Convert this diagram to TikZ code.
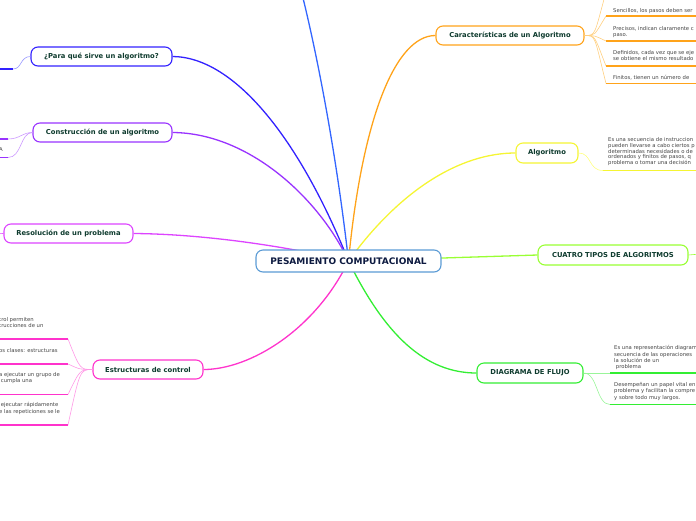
\documentclass[tikz,border=0pt]{standalone}
\usepackage{fontspec}
\setmainfont{DejaVu Sans}
\usetikzlibrary{backgrounds}
\definecolor{orangeA}{HTML}{FFA31A}
\definecolor{orangeL}{HTML}{FFCF80}
\definecolor{yellowA}{HTML}{F5F533}
\definecolor{yellowL}{HTML}{FFFF80}
\definecolor{lgreenA}{HTML}{99FF33}
\definecolor{greenA}{HTML}{33EE33}
\definecolor{greenL}{HTML}{99F599}
\definecolor{pinkA}{HTML}{FF33CC}
\definecolor{pinkL}{HTML}{FF99E6}
\definecolor{magA}{HTML}{DD44FF}
\definecolor{purpA}{HTML}{9933FF}
\definecolor{purpL}{HTML}{CC99FF}
\definecolor{violA}{HTML}{3322FF}
\definecolor{violL}{HTML}{9999FF}
\definecolor{blueA}{HTML}{3366FF}
\definecolor{centralB}{HTML}{5B9BD5}
\definecolor{centralT}{HTML}{0D1A40}
\definecolor{nodeT}{HTML}{0E3B2E}
\definecolor{itemT}{HTML}{444444}
\begin{document}
\begin{tikzpicture}[x=1pt,y=-1pt,
  topic/.style={draw, rounded corners=7pt, line width=1.1pt, fill=white, inner sep=0pt,
    font=\fontsize{6.8}{7.5}\selectfont\bfseries, text=nodeT},
  item/.style={inner sep=0pt, anchor=north west, align=left,
    font=\fontsize{5.3}{6.1}\selectfont, text=itemT},
  conn/.style={line width=1.3pt},
  subc/.style={line width=0.6pt},
  under/.style={line width=1.8pt}]
\useasboundingbox (0,0) rectangle (696,520);
\clip (0,0) rectangle (696,520);

% central and topics
\node[topic, draw=centralB, minimum width=185pt, minimum height=22pt,
  font=\fontsize{9}{10}\selectfont\bfseries, text=centralT] (c) at (348.5,261) {PESAMIENTO COMPUTACIONAL};
\node[topic, draw=orangeA, minimum width=148pt, minimum height=19pt] (car) at (510,35.5) {Características de un Algoritmo};
\node[topic, draw=yellowA, minimum width=62pt, minimum height=20pt] (alg) at (547,153) {Algoritmo};
\node[topic, draw=lgreenA, minimum width=150pt, minimum height=20pt] (cua) at (613,255) {CUATRO TIPOS DE ALGORITMOS};
\node[topic, draw=greenA, minimum width=106pt, minimum height=20pt] (dia) at (530,373) {DIAGRAMA DE FLUJO};
\node[topic, draw=violA, minimum width=141pt, minimum height=19pt] (par) at (101.5,56.5) {¿Para qué sirve un algoritmo?};
\node[topic, draw=purpA, minimum width=139pt, minimum height=19pt] (con) at (102.5,132.5) {Construcción de un algoritmo};
\node[topic, draw=magA, minimum width=129pt, minimum height=19pt] (res) at (68.5,233.5) {Resolución de un problema};
\node[topic, draw=pinkA, minimum width=110pt, minimum height=19pt] (est) at (148,369.5) {Estructuras de control};

\coordinate (topb) at (302,-6);

\begin{pgfonlayer}{background}
% main connectors
\draw[conn, blueA] (c.center) .. controls (336,150) and (316,50) .. (topb);
\draw[conn, orangeA] (c.center) .. controls (362,120) and (395,35.5) .. (car.west);
\draw[conn, yellowA] (c.center) .. controls (400,190) and (460,153) .. (alg.west);
\draw[conn, lgreenA] (c.center) -- (cua.west);
\draw[conn, greenA] (c.center) .. controls (385,335) and (425,373) .. (dia.west);
\draw[conn, violA] (c.center) .. controls (300,140) and (235,57) .. (par.east);
\draw[conn, purpA] (c.center) .. controls (320,200) and (250,133) .. (con.east);
\draw[conn, magA] (c.center) .. controls (280,245) and (200,234) .. (res.east);
\draw[conn, pinkA] (c.center) .. controls (315,330) and (250,369.5) .. (est.east);
\end{pgfonlayer}

% Caracteristicas items
\coordinate (k0) at (606,-8);
\coordinate (k1) at (606,16);
\coordinate (k2) at (606,41);
\coordinate (k3) at (606,66);
\coordinate (k4) at (606,83.5);
\foreach \k in {k0,k1,k2,k3,k4}{
  \draw[subc, orangeL] (car.east) .. controls (596,35.5) and (594,35.5) .. (\k);
  \draw[under, orangeA] (\k) -- ++(95,0);
}
\node[item] (ka) at (613,8.5) {Sencillos, los pasos deben ser};
\node[item] (kb) at (613,26.5) {Precisos, indican claramente c\\paso.};
\node[item] (kc) at (613,50.5) {Definidos, cada vez que se eje\\se obtiene el mismo resultado};
\node[item] (kd) at (613,75.5) {Finitos, tienen un número de};

% Algoritmo item
\coordinate (a1) at (603,170.5);
\draw[subc, yellowL] (alg.east) .. controls (592,153) and (588,170.5) .. (a1);
\draw[under, yellowA] (a1) -- ++(100,0);
\node[item, font=\fontsize{5.3}{5.75}\selectfont] (at) at (608,137.5) {Es una secuencia de instruccion\\pueden llevarse a cabo ciertos p\\determinadas necesidades o de\\ordenados y finitos de pasos, q\\problema o tomar una decisión};

% Cuatro tipos
\coordinate (q1) at (700,254);
\draw[subc, lgreenA] (cua.east) -- (q1);

% Diagrama items
\coordinate (d1) at (610,373);
\coordinate (d2) at (610,404.5);
\draw[subc, greenL] (dia.east) -- (d1);
\draw[subc, greenL] (dia.east) .. controls (598,373) and (596,404.5) .. (d2);
\draw[under, greenA] (d1) -- ++(95,0);
\draw[under, greenA] (d2) -- ++(95,0);
\node[item] (dt1) at (614,345.5) {Es una representación diagram\\secuencia de las operaciones\\la solución de un\\\ problema};
\node[item] (dt2) at (614,382.5) {Desempeñan un papel vital en\\problema y facilitan la compre\\y sobre todo muy largos.};

% Para que
\coordinate (p1) at (13,69);
\draw[subc, violL] (par.west) .. controls (20,56.5) and (22,69) .. (p1);
\draw[under, violA] (p1) -- ++(-20,0);

% Construccion
\coordinate (c1) at (8,139);
\coordinate (c2) at (8,157.5);
\draw[subc, purpL] (con.west) .. controls (22,132.5) and (20,139) .. (c1);
\draw[subc, purpL] (con.west) .. controls (20,132.5) and (22,157.5) .. (c2);
\draw[under, purpA] (c1) -- ++(-15,0);
\draw[under, purpA] (c2) -- ++(-15,0);
\node[item, anchor=west] (ca) at (-1,150) {A};

% Resolucion
\coordinate (r1) at (-5,234);
\draw[subc, magA] (res.west) -- (r1);

% Estructuras items
\coordinate (e1) at (68,339);
\coordinate (e2) at (68,364);
\coordinate (e3) at (68,394.5);
\coordinate (e4) at (68,425);
\foreach \e in {e1,e2,e3,e4}{
  \draw[subc, pinkL] (est.west) .. controls (80,369.5) and (80,369.5) .. (\e);
  \draw[under, pinkA] (\e) -- ++(-80,0);
}
\node[item] (et1) at (-1,317.5) {trol permiten\\trucciones de un};
\node[item] (et2) at (-1,348.5) {os clases: estructuras};
\node[item] (et3) at (-1,372.5) {a ejecutar un grupo de\\\ cumpla una};
\node[item] (et4) at (-1,402.5) {\ ejecutar rápidamente\\e las repeticiones se le};
\end{tikzpicture}
\end{document}
